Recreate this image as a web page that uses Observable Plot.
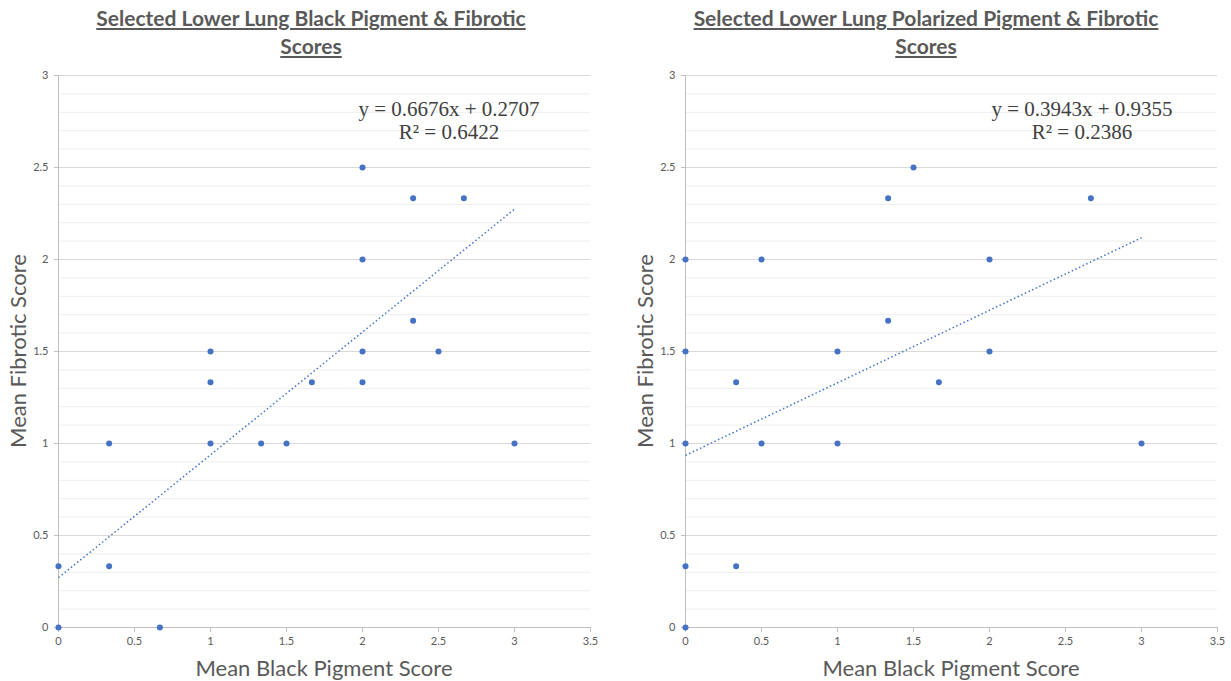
<!DOCTYPE html>
<html>
<head>
<meta charset="utf-8">
<script src="https://cdn.jsdelivr.net/npm/d3@7"></script>
<script src="https://cdn.jsdelivr.net/npm/@observablehq/plot@0.6"></script>
<style>
  html, body { margin: 0; padding: 0; background: #fff; width: 1231px; height: 681px; overflow: hidden; }
  #wrap { position: relative; width: 1231px; height: 681px; }
  .panel { position: absolute; top: 0; height: 681px; }
  .title { position: absolute; top: 4px; text-align: center; font-family: Lato, "Open Sans", sans-serif; font-weight: 700; font-size: 21px; line-height: 28px; color: #595959; text-decoration: underline; }
  .xlab { position: absolute; top: 654px; text-align: center; font-family: Lato, "Open Sans", sans-serif; font-size: 22px; color: #595959; white-space: nowrap; }
  .ylab { position: absolute; font-family: Lato, "Open Sans", sans-serif; font-size: 22px; color: #595959; white-space: nowrap; transform: rotate(-90deg); transform-origin: center center; }
  .eq { position: absolute; text-align: center; font-family: "Liberation Serif", "DejaVu Serif", serif; font-size: 21px; line-height: 23px; color: #404040; white-space: nowrap; }
</style>
</head>
<body>
<div id="wrap"></div>
<script>
// ---------- data ----------
const blackX = [0, 0, 0.333, 0.333, 0.667, 1, 1, 1, 1.333, 1.5, 1.667, 2, 2, 2, 2, 2.333, 2.333, 2.5, 2.667, 3];
const blackY = [0.333, 0, 1, 0.333, 0, 1.5, 1.333, 1, 1, 1, 1.333, 2.5, 2, 1.5, 1.333, 2.333, 1.667, 1.5, 2.333, 1];
const blackFit = { slope: 0.6676, intercept: 0.2707, r2: 0.6422 };

const polX = [0, 0, 0, 0, 0, 0.333, 0.333, 0.5, 0.5, 1, 1, 1.333, 1.333, 1.5, 1.667, 2, 2, 2.667, 3];
const polY = [2, 1.5, 1, 0.333, 0, 1.333, 0.333, 2, 1, 1.5, 1, 2.333, 1.667, 2.5, 1.333, 2, 1.5, 2.333, 1];
const polFit = { slope: 0.3943, intercept: 0.9355, r2: 0.2386 };

const xTicks = [0, 0.5, 1, 1.5, 2, 2.5, 3, 3.5];
const yTicks = [0, 0.5, 1, 1.5, 2, 2.5, 3];
const fitRange = [0, 3];

const titles = ["Selected Lower Lung Black Pigment & Fibrotic<br>Scores", "Selected Lower Lung Polarized Pigment & Fibrotic<br>Scores"];
const xLabel = "Mean Black Pigment Score";
const yLabel = "Mean Fibrotic Score";

// ---------- drawing ----------
const minorGrid = d3.range(1, 30).map(i => i / 10).filter(v => Math.abs(v * 2 - Math.round(v * 2)) > 1e-6);
const majorGrid = yTicks.filter(v => v > 0);
const blue = "#4472C4";

function chart(xs, ys, fit, marginLeft, marginRight, width) {
  const pts = xs.map((x, i) => ({ x, y: ys[i] }));
  const line = fitRange.map(x => ({ x, y: fit.slope * x + fit.intercept }));
  return Plot.plot({
    width, height: 681,
    marginLeft, marginRight, marginTop: 75, marginBottom: 54,
    style: { fontFamily: "Lato, 'Open Sans', sans-serif", fontSize: "11px", color: "#595959", background: "transparent" },
    x: { domain: [0, 3.5], label: null },
    y: { domain: [0, 3], label: null },
    marks: [
      Plot.ruleY(minorGrid, { stroke: "#eeeeee", strokeWidth: 1 }),
      Plot.ruleY(majorGrid, { stroke: "#d9d9d9", strokeWidth: 1 }),
      Plot.axisX(xTicks, { tickSize: 5, tickPadding: 5, stroke: "#bfbfbf", fill: "#595959", tickFormat: d => String(d), label: null }),
      Plot.axisY(yTicks, { tickSize: 4, tickPadding: 6, stroke: "#bfbfbf", fill: "#595959", tickFormat: d => String(d), label: null }),
      Plot.ruleX([0], { stroke: "#bfbfbf", strokeWidth: 1 }),
      Plot.ruleY([0], { stroke: "#bfbfbf", strokeWidth: 1 }),
      Plot.line(line, { x: "x", y: "y", stroke: blue, strokeWidth: 1.5, strokeDasharray: "1.5,2.5", strokeLinecap: "butt" }),
      Plot.dot(pts, { x: "x", y: "y", r: 3, fill: blue, stroke: "none" })
    ]
  });
}

const wrap = document.getElementById("wrap");
const panels = [
  { left: 0, width: 615, ml: 58, mr: 25, xs: blackX, ys: blackY, fit: blackFit, title: titles[0], eqCenter: 449, titleCenter: 311 },
  { left: 615, width: 616, ml: 70, mr: 14, xs: polX, ys: polY, fit: polFit, title: titles[1], eqCenter: 1082 - 615, titleCenter: 311 }
];
panels.forEach(p => {
  const div = document.createElement("div");
  div.className = "panel";
  div.style.left = p.left + "px";
  div.style.width = p.width + "px";
  div.appendChild(chart(p.xs, p.ys, p.fit, p.ml, p.mr, p.width));

  const t = document.createElement("div");
  t.className = "title";
  t.style.left = (p.titleCenter - 300) + "px";
  t.style.width = "600px";
  t.innerHTML = p.title;
  div.appendChild(t);

  const plotCenter = p.ml + (p.width - p.ml - p.mr) / 2;
  const xl = document.createElement("div");
  xl.className = "xlab";
  xl.style.left = (plotCenter - 200) + "px";
  xl.style.width = "400px";
  xl.textContent = xLabel;
  div.appendChild(xl);

  const yl = document.createElement("div");
  yl.className = "ylab";
  yl.style.width = "300px";
  yl.style.height = "28px";
  yl.style.lineHeight = "28px";
  yl.style.textAlign = "center";
  const ycx = p.ml === 58 ? 18 : 30;
  yl.style.left = (ycx - 150) + "px";
  yl.style.top = (351 - 14) + "px";
  yl.textContent = yLabel;
  div.appendChild(yl);

  const eq = document.createElement("div");
  eq.className = "eq";
  eq.style.left = (p.eqCenter - 150) + "px";
  eq.style.width = "300px";
  eq.style.top = "98px";
  const sign = p.fit.intercept >= 0 ? "+" : "−";
  eq.innerHTML = `y = ${p.fit.slope.toFixed(4)}x ${sign} ${Math.abs(p.fit.intercept).toFixed(4)}<br>R² = ${p.fit.r2.toFixed(4)}`;
  div.appendChild(eq);

  wrap.appendChild(div);
});
</script>
</body>
</html>
